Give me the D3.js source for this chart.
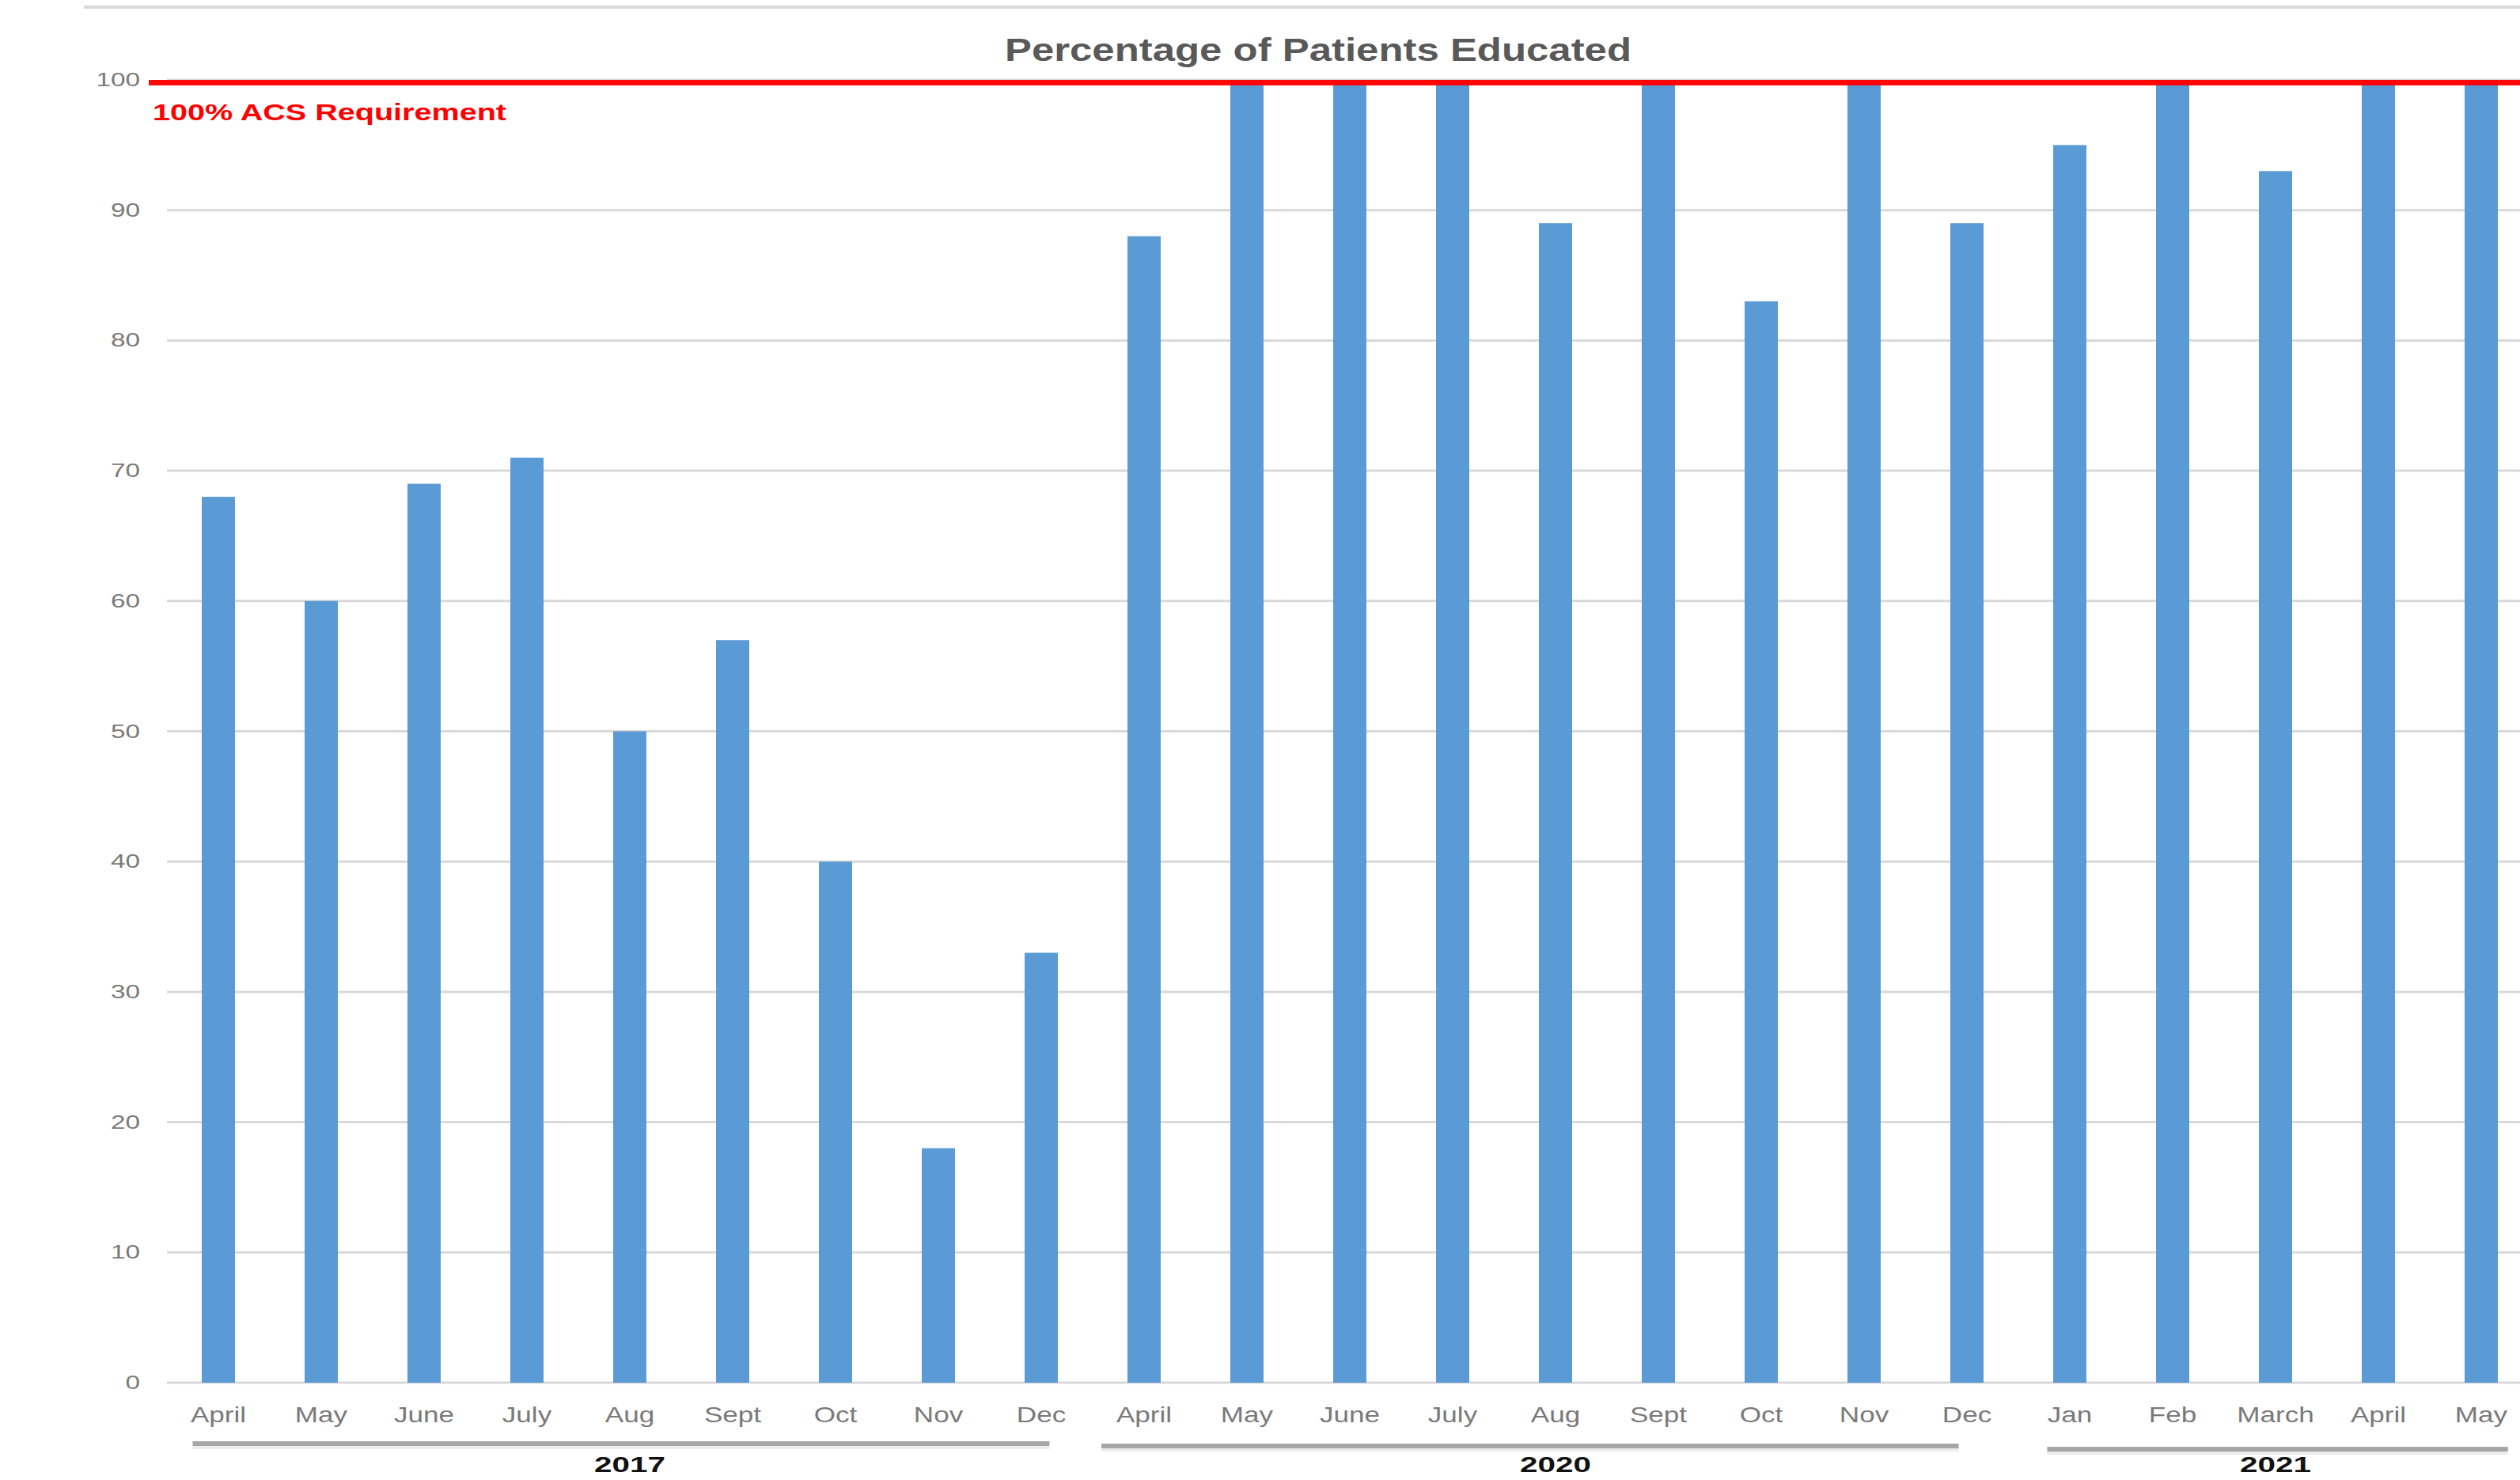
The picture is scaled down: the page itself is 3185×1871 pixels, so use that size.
<!DOCTYPE html>
<html>
<head>
<meta charset="utf-8">
<script src="https://cdn.jsdelivr.net/npm/d3@7"></script>
<style>
  body { margin: 0; background: #fff; }
  svg { display: block; font-family: "Liberation Sans", Arial, sans-serif; }
</style>
</head>
<body>
<svg id="chart"></svg>
<script>
const width = 3185, height = 1871

// data
const months = ['April','May','June','July','Aug','Sept','Oct','Nov','Dec',
  'April','May','June','July','Aug','Sept','Oct','Nov','Dec',
  'Jan','Feb','March','April','May']
const values = [68,60,69,71,50,57,40,18,33,88,100,100,100,89,100,83,100,89,95,100,93,100,100]
const years = ['2017','2020','2021']
const yearFirst = [0, 9, 18]
const yearLast = [8, 17, 22]
const yTicks = [0,10,20,30,40,50,60,70,80,90,100]
const target = 100
const targetLabel = '100% ACS Requirement'
const title = 'Percentage of Patients Educated'

// layout of the hand drawn year brackets (fractions of a band step)
const bracketLayout = [
  { from: 0.25, to: 0.58, y: 1825 },
  { from: 0.085, to: 0.42, y: 1828 },
  { from: 0.28, to: 0.76, y: 1832 }
]

const svg = d3.select('#chart')
  .attr('width', width)
  .attr('height', height)

const plotLeft = 211, step = 130
const idx = d3.range(months.length)

const x = d3.scaleBand()
  .domain(idx)
  .range([plotLeft, plotLeft + step * months.length])
  .paddingInner(0.677)
  .paddingOuter(0.3385)

const y = d3.scaleLinear()
  .domain([0, 100])
  .range([1748, 101])

// stretched text helper (reference text is drawn wide)
const wideText = (sel, k) => sel.attr('transform', function () {
  const tx = +this.getAttribute('data-x'), ty = +this.getAttribute('data-y')
  return 'translate(' + tx + ',' + ty + ') scale(' + k + ',1)'
})

// top border
svg.append('line')
  .attr('x1', 106).attr('x2', width)
  .attr('y1', 9).attr('y2', 9)
  .attr('stroke', '#d9d9d9').attr('stroke-width', 4)

// gridlines
svg.append('g')
  .selectAll('line')
  .data(yTicks)
  .enter()
  .append('line')
  .attr('x1', plotLeft).attr('x2', width)
  .attr('y1', d => y(d)).attr('y2', d => y(d))
  .attr('stroke', '#d9d9d9')
  .attr('stroke-width', 3)

// y labels
svg.append('g')
  .selectAll('text')
  .data(yTicks)
  .enter()
  .append('text')
  .attr('data-x', 177)
  .attr('data-y', d => y(d) + 8)
  .attr('text-anchor', 'end')
  .attr('font-size', 23)
  .attr('fill', '#7a7a7a')
  .text(d => d)
  .call(wideText, 1.45)

// bars
svg.append('g')
  .selectAll('rect')
  .data(values)
  .enter()
  .append('rect')
  .attr('x', (d, i) => x(i))
  .attr('width', x.bandwidth())
  .attr('y', d => y(d))
  .attr('height', d => y(0) - y(d))
  .attr('fill', '#5b9bd5')

// target line
svg.append('line')
  .attr('x1', plotLeft - 23).attr('x2', width)
  .attr('y1', y(target) + 3.5).attr('y2', y(target) + 3.5)
  .attr('stroke', '#ff0000')
  .attr('stroke-width', 7)
  .attr('stroke-opacity', 0.97)

svg.append('text')
  .attr('x', 193).attr('y', 152)
  .attr('font-size', 29)
  .attr('font-weight', 'bold')
  .attr('fill', '#ff0000')
  .attr('textLength', 447)
  .attr('lengthAdjust', 'spacingAndGlyphs')
  .text(targetLabel)

// title
svg.append('text')
  .attr('x', 1270).attr('y', 77)
  .attr('font-size', 40)
  .attr('font-weight', 'bold')
  .attr('fill', '#595959')
  .attr('textLength', 792)
  .attr('lengthAdjust', 'spacingAndGlyphs')
  .text(title)

// month labels
svg.append('g')
  .selectAll('text')
  .data(months)
  .enter()
  .append('text')
  .attr('data-x', (d, i) => x(i) + x.bandwidth() / 2)
  .attr('data-y', 1798)
  .attr('text-anchor', 'middle')
  .attr('font-size', 27)
  .attr('fill', '#7a7a7a')
  .text(d => d)
  .call(wideText, 1.3)

// year brackets
const brackets = svg.append('g')
years.forEach((yr, g) => {
  const lay = bracketLayout[g]
  const x1 = x(yearFirst[g]) - x.step() * x.paddingInner() / 2 + lay.from * step
  const x2 = x(yearLast[g]) - x.step() * x.paddingInner() / 2 + lay.to * step
  brackets.append('line')
    .attr('x1', x1).attr('x2', x2)
    .attr('y1', lay.y + 5).attr('y2', lay.y + 5)
    .attr('stroke', '#ececec').attr('stroke-width', 4)
  brackets.append('line')
    .attr('x1', x1).attr('x2', x2)
    .attr('y1', lay.y).attr('y2', lay.y)
    .attr('stroke', '#a6a6a6').attr('stroke-width', 6)
})

// year labels
svg.append('g')
  .selectAll('text')
  .data(years)
  .enter()
  .append('text')
  .attr('data-x', (d, g) => (x(yearFirst[g]) + x(yearLast[g]) + x.bandwidth()) / 2)
  .attr('data-y', 1861)
  .attr('text-anchor', 'middle')
  .attr('font-size', 27)
  .attr('font-weight', 'bold')
  .attr('fill', '#111')
  .text(d => d)
  .call(wideText, 1.5)
</script>
</body>
</html>
